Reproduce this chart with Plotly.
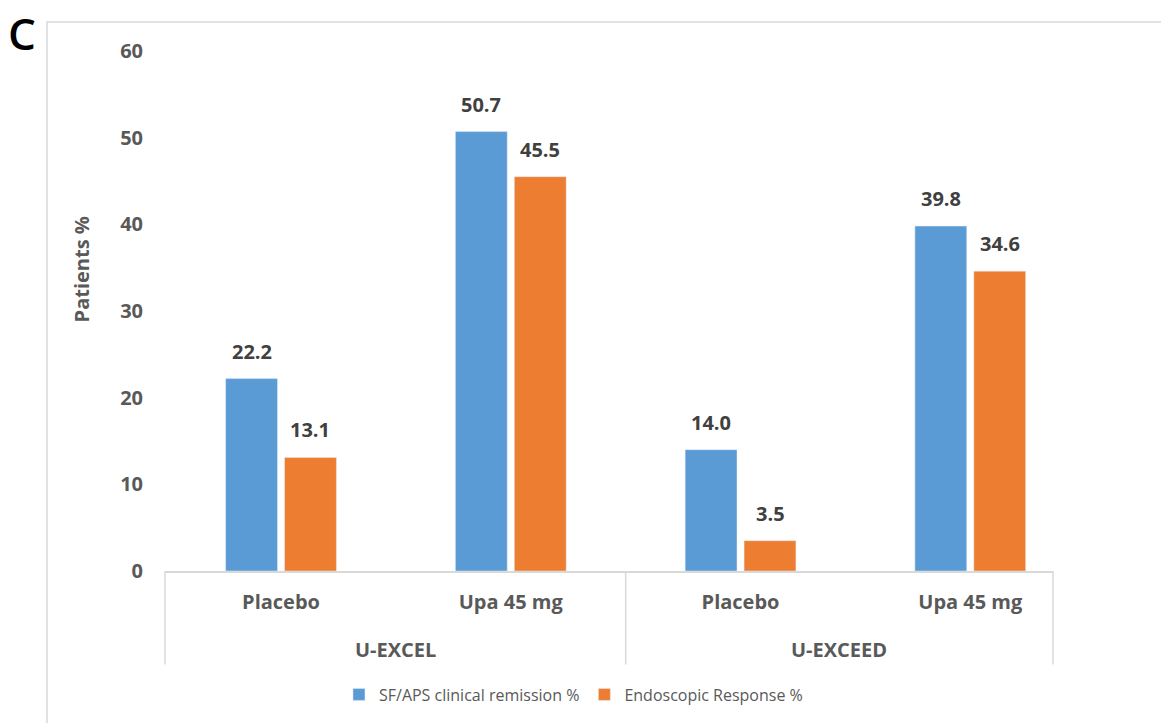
import plotly.graph_objects as go

# Trial groups and treatment arms
studies = ["U-EXCEL", "U-EXCEED"]
arms = ["Placebo", "Upa 45 mg", "Placebo", "Upa 45 mg"]

# Outcome rates (% of patients)
remission = [22.2, 50.7, 14.0, 39.8]
endoscopic = [13.1, 45.5, 3.5, 34.6]

series_names = ["SF/APS clinical remission %", "Endoscopic Response %"]
BLUE = "#5B9BD5"
ORANGE = "#ED7D31"
GRID = "#D9D9D9"
TEXT = "#595959"
LABEL = "#404040"
FONT = "Open Sans"

BARGAP = 0.487
GROUPGAP = 0.12

xpos = list(range(len(arms)))

fig = go.Figure()
series = [(series_names[0], remission, BLUE), (series_names[1], endoscopic, ORANGE)]
for name, vals, col in series:
    fig.add_trace(go.Bar(x=xpos, y=vals, name=name, marker_color=col))

# value labels above each bar, centred on the bar's slot within its group
slot = (1 - BARGAP) / len(series)
for k, (name, vals, col) in enumerate(series):
    offset = (k - (len(series) - 1) / 2) * slot
    for xi, v in zip(xpos, vals):
        fig.add_annotation(x=xi + offset, y=v, xref="x", yref="y",
                           text=f"{v:.1f}", showarrow=False,
                           yanchor="bottom", yshift=12,
                           font=dict(family=FONT, size=20, color=LABEL, weight="bold"))

x_lo, x_hi = -0.505, 3.36

fig.update_layout(
    width=1161, height=723,
    margin=dict(l=165, r=108, t=51, b=150),
    paper_bgcolor="white", plot_bgcolor="white",
    barmode="group", bargap=BARGAP, bargroupgap=GROUPGAP,
    font=dict(family=FONT, color=TEXT),
    xaxis=dict(
        range=[x_lo, x_hi], tickmode="array", tickvals=xpos, ticktext=arms,
        showgrid=False, zeroline=False, showline=True, linecolor=GRID, linewidth=1.5,
        ticks="", ticklabelstandoff=12,
        tickfont=dict(family=FONT, size=20, color=TEXT, weight="bold"),
    ),
    yaxis=dict(
        range=[0, 60], tickvals=[0, 10, 20, 30, 40, 50, 60],
        showgrid=False, zeroline=False, showline=False,
        ticks="", ticklabelstandoff=21,
        tickfont=dict(family=FONT, size=20, color=TEXT, weight="bold"),
    ),
    legend=dict(
        orientation="h", x=0.46, xanchor="center", y=-0.2375, yanchor="middle",
        font=dict(family=FONT, size=16, color=TEXT), traceorder="normal",
    ),
    showlegend=True,
)

# outer frame
fig.add_shape(type="rect", xref="paper", yref="paper",
              x0=-0.1329, x1=1.3, y0=-0.4, y1=1.0556,
              line=dict(color=GRID, width=1.5), layer="below")

# category box dividers below the axis
box_bottom = -0.18
for xr, xv in [("paper", 0), ("x", 1.5), ("paper", 1)]:
    fig.add_shape(type="line", xref=xr, yref="paper", x0=xv, x1=xv,
                  y0=0, y1=box_bottom, line=dict(color=GRID, width=1.5))

# study group labels
for label, xc in [(studies[0], 0.5), (studies[1], (1.5 + x_hi) / 2)]:
    fig.add_annotation(x=xc, xref="x", y=-0.151, yref="paper", text=label,
                       showarrow=False, yanchor="middle", xanchor="center",
                       font=dict(family=FONT, size=20, color=TEXT, weight="bold"))

# axis title
fig.add_annotation(x=-0.0946, xref="paper", y=0.580, yref="paper",
                   text="Patients %", textangle=-90, showarrow=False,
                   xanchor="center", yanchor="middle",
                   font=dict(family=FONT, size=20, color=TEXT, weight="bold"))

# panel letter
fig.add_annotation(x=-0.161, xref="paper", y=1.097, yref="paper",
                   text="C", showarrow=False, xanchor="center", yanchor="top",
                   font=dict(family=FONT, size=44, color="black", weight=600))

fig.write_html("out.html")
